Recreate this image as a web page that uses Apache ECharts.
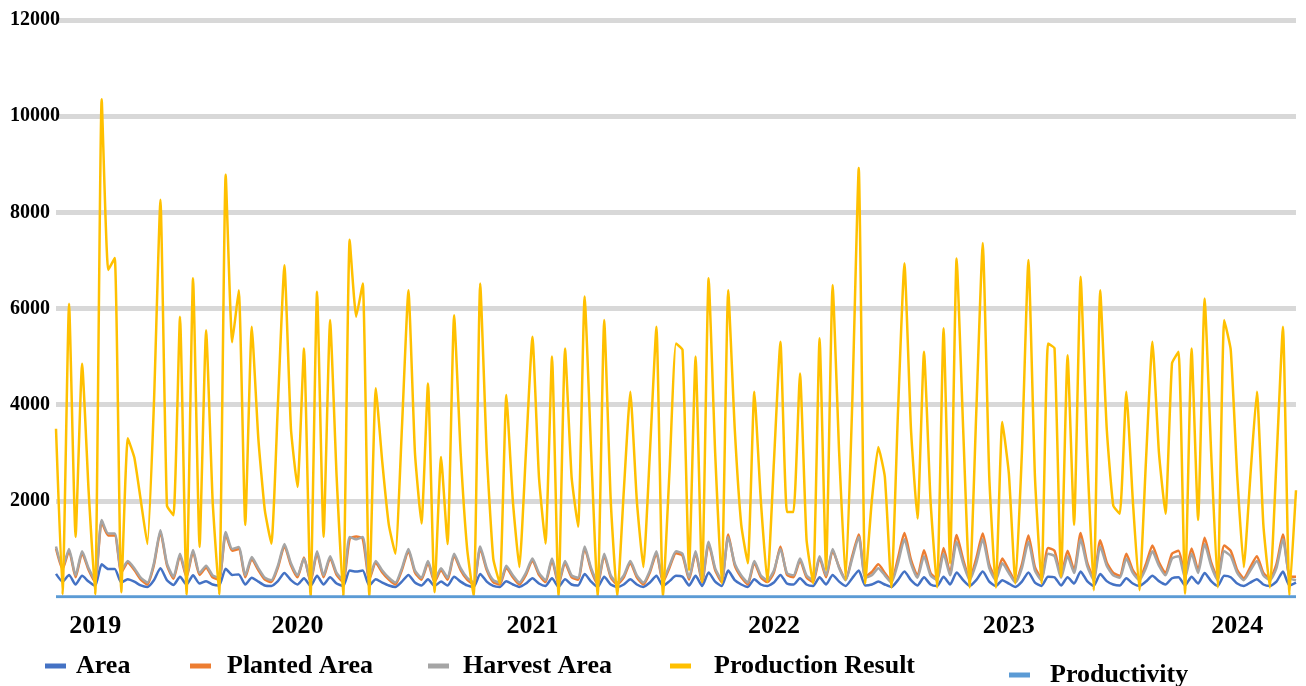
<!DOCTYPE html>
<html><head><meta charset="utf-8">
<script src="https://cdn.jsdelivr.net/npm/echarts@6/dist/echarts.min.js"></script>
<style>html,body{margin:0;padding:0;background:#fff}#c{width:1306px;height:686px}</style>
</head><body><div id="c"></div>
<script>
const yearLabels = ['2019', '2020', '2021', '2022', '2023', '2024'];
const yearLabelIndex = [6, 37, 73, 110, 146, 181];
const yTicks = [0, 2000, 4000, 6000, 8000, 10000, 12000];

const production = [
3500,50,6100,1250,4850,2200,50,10350,6800,7050,
100,3300,2900,2000,1100,4000,8260,1900,1700,5830,
50,6630,1040,5550,2000,50,8780,5300,6380,1500,
5620,3300,1800,1110,4000,6900,3500,2290,5170,0,
6350,1250,5760,2500,0,7430,5830,6520,0,4340,
2800,1500,900,3500,6380,3000,1530,4440,100,2910,
1100,5860,3000,1000,0,6520,3000,800,280,4200,
2000,620,3000,5410,2500,1110,5000,0,5170,2500,
1460,6250,3000,0,5760,2000,0,2200,4270,2000,
620,3000,5620,0,2600,5270,5140,560,5000,310,
6630,3000,280,6380,3500,1500,700,4270,2000,310,
2800,5310,1770,1770,4650,1200,280,5380,560,6490,
3000,350,4000,8920,280,2000,3120,2500,200,3800,
6940,3500,1630,5100,2000,200,5590,700,7040,3500,
200,3800,7360,2500,200,3640,2570,280,3000,7010,
2500,280,5270,5170,420,5030,1500,6660,3000,140,
6380,3500,1900,1730,4270,2000,140,2800,5310,3000,
1730,4860,5100,70,5170,1600,6210,3000,200,5760,
5140,2500,620,2500,4270,1500,200,2800,5620,30,
2220];

const harvestArea = [
1050,620,1000,450,950,600,350,1600,1320,1320,
550,750,600,400,300,700,1390,700,420,900,
450,980,500,650,450,400,1350,1000,1040,450,
830,600,400,350,650,1100,700,450,800,350,
950,450,850,500,350,1250,1200,1250,400,750,
550,400,300,600,1000,550,400,750,350,600,
400,900,600,400,300,1050,600,350,300,650,
450,300,500,800,500,350,800,300,750,450,
400,1050,600,300,900,450,300,450,750,450,
300,550,950,350,650,950,900,400,950,350,
1150,600,350,1250,700,450,300,750,450,350,
550,1000,500,450,800,450,350,850,450,1000,
600,350,800,1250,400,450,600,450,300,700,
1200,700,400,850,450,350,900,450,1150,700,
350,700,1200,600,350,700,500,300,600,1150,
550,350,900,850,400,850,500,1200,650,350,
1050,650,450,400,800,500,350,600,950,650,
450,800,850,400,900,500,1100,650,350,950,
850,500,350,550,750,450,350,600,1200,400,
350];

const plantedArea = [
1010,580,960,410,910,560,310,1560,1280,1280,
510,710,560,360,260,660,1350,660,380,860,
410,940,460,610,410,360,1310,960,1000,410,
790,560,360,310,610,1060,660,410,820,310,
910,410,810,460,310,1210,1260,1210,360,710,
510,360,260,560,960,510,360,710,310,560,
360,860,560,360,260,1010,560,310,260,610,
410,260,460,760,460,310,760,260,710,410,
360,1010,560,260,860,410,260,410,710,410,
260,510,910,310,610,910,860,360,910,310,
1110,560,310,1300,660,410,260,710,410,310,
510,1050,460,410,760,410,310,810,410,960,
620,360,850,1300,420,520,680,500,330,800,
1330,780,440,970,500,380,1020,500,1290,780,
390,800,1320,680,390,800,560,330,680,1280,
620,390,1020,960,440,960,560,1330,720,390,
1180,720,500,440,900,560,390,680,1070,720,
500,900,960,440,1010,560,1230,720,390,1070,
960,560,390,620,850,500,390,680,1300,430,
420];

const area = [
480,320,460,260,440,320,230,680,580,580,
300,370,320,240,210,350,600,350,250,420,
260,450,280,330,260,240,590,460,470,260,
400,320,240,230,330,500,350,260,390,230,
440,260,410,280,230,550,530,550,240,370,
300,240,210,320,460,300,240,370,230,320,
240,420,320,240,210,480,320,230,210,330,
260,210,280,390,280,230,390,210,370,260,
240,480,320,210,420,260,210,260,370,260,
210,300,440,230,330,440,420,240,440,230,
510,320,230,550,350,260,210,370,260,230,
300,460,280,260,390,260,230,410,260,460,
320,230,390,550,240,260,320,260,210,350,
530,350,240,410,260,230,420,260,510,350,
230,350,530,320,230,350,280,210,320,510,
300,230,420,410,240,410,280,530,330,230,
480,330,260,240,390,280,230,320,440,330,
260,390,410,240,420,280,500,330,230,440,
410,280,230,300,370,260,230,320,530,240,
300];

const productivity = [
5.2,5.1,5.3,5.0,5.2,5.1,5.0,5.4,5.3,5.2,
5.1,5.0,5.2,5.1,5.0,5.3,5.4,5.1,5.0,5.2,
5.1,5.3,5.0,5.2,5.1,5.0,5.4,5.3,5.3,5.1,
5.2,5.1,5.0,5.0,5.2,5.3,5.1,5.0,5.2,5.0,
5.3,5.1,5.2,5.0,5.0,5.4,5.3,5.4,5.0,5.2,
5.1,5.0,5.0,5.1,5.3,5.1,5.0,5.2,5.0,5.1,
5.0,5.3,5.1,5.0,5.0,5.3,5.1,5.0,5.0,5.2,
5.1,5.0,5.1,5.3,5.1,5.0,5.3,5.0,5.2,5.1,
5.0,5.3,5.1,5.0,5.3,5.1,5.0,5.1,5.2,5.1,
5.0,5.1,5.3,5.0,5.2,5.3,5.3,5.0,5.3,5.0,
5.4,5.1,5.0,5.4,5.2,5.1,5.0,5.2,5.1,5.0,
5.1,5.3,5.1,5.1,5.2,5.1,5.0,5.3,5.1,5.3,
5.1,5.0,5.2,5.5,5.0,5.1,5.2,5.1,5.0,5.2,
5.4,5.2,5.0,5.3,5.1,5.0,5.3,5.1,5.4,5.2,
5.0,5.2,5.4,5.1,5.0,5.2,5.1,5.0,5.1,5.4,
5.1,5.0,5.3,5.3,5.0,5.3,5.1,5.4,5.2,5.0,
5.3,5.2,5.1,5.0,5.2,5.1,5.0,5.1,5.3,5.2,
5.1,5.2,5.3,5.0,5.3,5.1,5.4,5.2,5.0,5.3,
5.3,5.1,5.0,5.1,5.2,5.1,5.0,5.1,5.4,5.0,
5.1];

const categories = production.map((_, i) => 'Period ' + (i + 1));

const serif = '"Liberation Serif", "Times New Roman", serif';
const colors = {
  'Area': '#4472C4',
  'Planted Area': '#ED7D31',
  'Harvest Area': '#A5A5A5',
  'Production Result': '#FFC000',
  'Productivity': '#5B9BD5'
};

function lineSeries(name, data, width, smooth) {
  return {
    name: name, type: 'line', data: data, showSymbol: false, symbol: 'none',
    smooth: smooth, animation: false,
    lineStyle: { color: colors[name], width: width },
    itemStyle: { color: colors[name] }
  };
}

function legendItem(name, left, top, gap) {
  return {
    data: [name], left: left, top: top, padding: 0, orient: 'horizontal',
    icon: 'rect', itemWidth: 21, itemHeight: 5,
    textStyle: { fontFamily: serif, fontWeight: 'bold', fontSize: 26, color: '#000', padding: [0, 0, 0, gap] },
    selectedMode: false
  };
}

const chart = echarts.init(document.getElementById('c'), null, { renderer: 'canvas' });
chart.setOption({
  backgroundColor: '#ffffff',
  animation: false,
  grid: { left: 56, right: 10, top: 20, bottom: 89, containLabel: false },
  xAxis: {
    type: 'category', data: categories, boundaryGap: false,
    axisLine: { show: false }, axisTick: { show: false }, splitLine: { show: false },
    axisLabel: {
      interval: (i) => yearLabelIndex.indexOf(i) >= 0,
      formatter: (v, i) => { const k = yearLabelIndex.indexOf(i); return k >= 0 ? yearLabels[k] : ''; },
      fontFamily: serif, fontWeight: 'bold', fontSize: 26, color: '#000', margin: 16
    }
  },
  yAxis: {
    type: 'value', min: yTicks[0], max: yTicks[yTicks.length - 1], interval: 2000,
    axisLine: { show: false }, axisTick: { show: false },
    splitLine: { show: true, showMinLine: false, lineStyle: { color: '#d8d8d8', width: 5 } },
    axisLabel: {
      formatter: (v) => (v === 0 ? '' : String(v)),
      fontFamily: serif, fontWeight: 'bold', fontSize: 20, color: '#000',
      align: 'left', margin: 46
    }
  },
  legend: [
    legendItem('Area', 45, 653, 5),
    legendItem('Planted Area', 190, 653, 11),
    legendItem('Harvest Area', 428, 653, 9),
    legendItem('Production Result', 670, 653, 18),
    legendItem('Productivity', 1009, 662, 15)
  ],
  series: [
    lineSeries('Area', area, 2.5, 0.2),
    lineSeries('Planted Area', plantedArea, 2.5, 0.2),
    lineSeries('Harvest Area', harvestArea, 2.5, 0.2),
    lineSeries('Production Result', production, 2.5, 0.15),
    lineSeries('Productivity', productivity, 3, false)
  ]
});
</script>
</body></html>
